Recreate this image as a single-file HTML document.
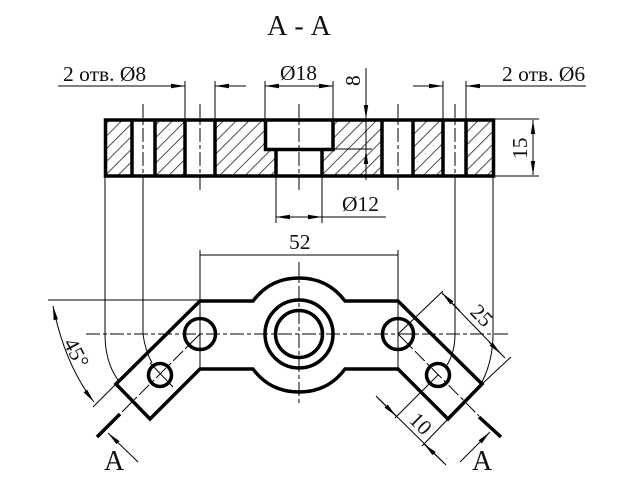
<!DOCTYPE html>
<html><head><meta charset="utf-8"><style>
html,body{margin:0;padding:0;background:#fff}
svg{display:block}
text{font-family:"Liberation Serif",serif;fill:#111}
.t{stroke:#000;stroke-width:1;fill:none}
.k{stroke:#000;stroke-width:3.5;fill:none;stroke-linejoin:miter}
.c{stroke:#000;stroke-width:1;fill:none;stroke-dasharray:14 3 4 3}
</style></head><body>
<svg width="640" height="480" viewBox="0 0 640 480" xmlns="http://www.w3.org/2000/svg">
<defs>
<pattern id="p" width="9" height="9" patternUnits="userSpaceOnUse" patternTransform="rotate(45)"><line x1="0" y1="0" x2="0" y2="9" stroke="#222" stroke-width="1.600"/></pattern>
<marker id="a" viewBox="0 0 14 5" refX="14" refY="2.500" markerWidth="14" markerHeight="5" orient="auto-start-reverse" markerUnits="userSpaceOnUse"><path d="M0 0.300L14 2.500L0 4.700z" fill="#000"/></marker>
</defs>
<text x="299" y="35" font-size="28" text-anchor="middle">А - А</text>
<!-- hatching -->
<g fill="url(#p)">
<rect x="105" y="120" width="27" height="56"/><rect x="155" y="120" width="30" height="56"/>
<path d="M215 120H265V149H276V176H215z"/><path d="M333 120H382V176H322V149H333z"/>
<rect x="413" y="120" width="30" height="56"/><rect x="466" y="120" width="27" height="56"/>
</g>
<!-- section outline -->
<g class="k">
<rect x="105.500" y="120" width="388" height="56"/>
<path d="M132 120V176M155 120V176M185 120V176M215 120V176M382 120V176M413 120V176M443 120V176M466 120V176"/>
<path d="M265.500 120V149.500H333V120M276 149.500V176M322 149.500V176"/>
</g>
<!-- section center lines -->
<g class="c"><path d="M143 104V191M200 104V191M299 104V191M398 104V191M455 104V191"/></g>
<!-- dim lines -->
<g class="t">
<path d="M58 86H185M215 86H246M185 81V120M215 81V120M265 81V120M333 81V120M443 81V120M466 81V120M413 86H443M466 86H586M105 176V334M143 176V334M455 176V334M493 176V334"/>
<path d="M276 176V223M322 176V223M276 217H386"/>
<path d="M493 119H539M493 176H539"/>
<path d="M366 68V180M333 149H372"/>
<line x1="171" y1="86" x2="185" y2="86" marker-end="url(#a)"/>
<line x1="229" y1="86" x2="215" y2="86" marker-end="url(#a)"/>
<line x1="299" y1="86" x2="265" y2="86" marker-end="url(#a)"/>
<line x1="299" y1="86" x2="333" y2="86" marker-end="url(#a)"/>
<line x1="429" y1="86" x2="443" y2="86" marker-end="url(#a)"/>
<line x1="480" y1="86" x2="466" y2="86" marker-end="url(#a)"/>
<line x1="299" y1="217" x2="276" y2="217" marker-end="url(#a)"/>
<line x1="299" y1="217" x2="322" y2="217" marker-end="url(#a)"/>
<line x1="533" y1="148" x2="533" y2="120" marker-end="url(#a)"/>
<line x1="533" y1="148" x2="533" y2="175" marker-end="url(#a)"/>
<line x1="366" y1="100" x2="366" y2="119" marker-end="url(#a)"/>
<line x1="366" y1="170" x2="366" y2="150" marker-end="url(#a)"/>
</g>
<text x="63" y="81" font-size="21.500">2 отв. Ø8</text>
<text x="280" y="80" font-size="21.500">Ø18</text>
<text x="502" y="81" font-size="21.500">2 отв. Ø6</text>
<text x="342" y="211" font-size="21.500">Ø12</text>
<text x="289" y="249" font-size="21.500">52</text>
<text transform="translate(360 86) rotate(-90)" font-size="21.500">8</text>
<text transform="translate(527 159) rotate(-90)" font-size="21.500">15</text>
<!-- plan outline -->
<path class="k" d="M200 301H253C265 285 280 278 299 278C318 278 333 285 345 301H398L482 384L448 419L398 369H345C333 385 318 392 299 392C280 392 265 385 253 369H200L150 419L116 384z"/>
<g class="k">
<circle cx="299" cy="334" r="34"/><circle cx="299" cy="334" r="23.500"/>
<circle cx="200" cy="334" r="15.500"/><circle cx="398" cy="334" r="15.500"/>
<circle cx="160" cy="375" r="11.500"/><circle cx="438" cy="375" r="11.500"/>
</g>
<!-- centre lines plan -->
<g class="c">
<path d="M86 334H511M299 262V406"/>
<path d="M200 334L120 414M398 334L479 416"/>
</g>
<g class="t">
<path d="M200 250V369M398 250V369M200 255H398"/>
<path d="M48 300H200"/>
<path d="M105 334Q105 362 118 380M143 334Q145 350 152 363M455 334Q455 352 447 365M493 334Q493 360 482 382"/>
<path d="M150 363L173 387"/>
<path d="M116 384L93 407"/>
<path d="M398 334L443 291"/>
<path d="M438 375L395 418M448 419L422 446M482 384L511 357"/>
<path d="M442 293L505 358M376 396L446 465"/>
<line x1="460" y1="311" x2="442" y2="293" marker-end="url(#a)"/>
<line x1="489" y1="342" x2="501" y2="354" marker-end="url(#a)"/>
<line x1="378" y1="398" x2="396" y2="416" marker-end="url(#a)"/>
<line x1="444" y1="463" x2="424" y2="444" marker-end="url(#a)"/>
<path d="M53 306Q65 365 94 402" marker-start="url(#a)" marker-end="url(#a)"/>
<line x1="138" y1="462" x2="108" y2="433" marker-end="url(#a)"/>
<line x1="460" y1="462" x2="490" y2="432" marker-end="url(#a)"/>
</g>
<path d="M97 437L120 414M479 417L501 437" stroke="#000" stroke-width="3.500" fill="none"/>
<text x="104" y="470" font-size="28">А</text>
<text x="472" y="470" font-size="28">А</text>
<text transform="translate(63 343) rotate(62)" font-size="21.500">45°</text>
<text transform="translate(469 313) rotate(45)" font-size="21.500">25</text>
<text transform="translate(408 421) rotate(45)" font-size="21.500">10</text>
</svg>
</body></html>
